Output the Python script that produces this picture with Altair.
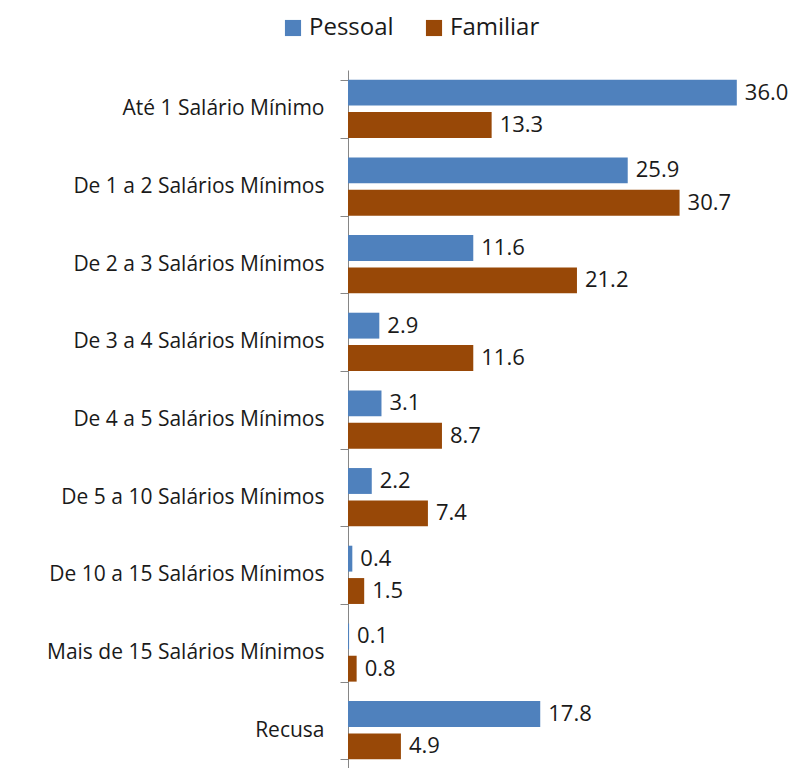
import altair as alt
import pandas as pd

categories = [
    "Até 1 Salário Mínimo",
    "De 1 a 2 Salários Mínimos",
    "De 2 a 3 Salários Mínimos",
    "De 3 a 4 Salários Mínimos",
    "De 4 a 5 Salários Mínimos",
    "De 5 a 10 Salários Mínimos",
    "De 10 a 15 Salários Mínimos",
    "Mais de 15 Salários Mínimos",
    "Recusa",
]
series = ["Pessoal", "Familiar"]
pessoal = [36.0, 25.9, 11.6, 2.9, 3.1, 2.2, 0.4, 0.1, 17.8]
familiar = [13.3, 30.7, 21.2, 11.6, 8.7, 7.4, 1.5, 0.8, 4.9]
colors = ["#4F81BD", "#984807"]

rows = []
for c, p, f in zip(categories, pessoal, familiar):
    rows.append({"cat": c, "serie": "Pessoal", "valor": p, "rotulo": f"{p:.1f}"})
    rows.append({"cat": c, "serie": "Familiar", "valor": f, "rotulo": f"{f:.1f}"})
df = pd.DataFrame(rows)

FONT = "Open Sans"

y = alt.Y("cat:N", sort=categories, title=None,
          scale=alt.Scale(paddingInner=0.25, paddingOuter=0.125),
          axis=alt.Axis(domainColor="#868686", tickColor="#868686", tickSize=8,
                        tickBand="extent", labelPadding=16, labelFont=FONT,
                        labelFontSize=21, labelColor="#1a1a1a", labelLimit=400))
yoff = alt.YOffset("serie:N", sort=series, scale=alt.Scale(paddingInner=0.2))
x = alt.X("valor:Q", axis=None, scale=alt.Scale(domain=[0, 40], nice=False))

bars = alt.Chart(df).mark_bar().encode(
    y=y, yOffset=yoff, x=x,
    color=alt.Color("serie:N", sort=series,
                    scale=alt.Scale(domain=series, range=colors),
                    legend=alt.Legend(title=None, orient="none", direction="horizontal",
                                      legendX=-67, legendY=-54, symbolType="square",
                                      symbolSize=260, symbolStrokeWidth=0,
                                      labelFont=FONT, labelFontSize=24,
                                      labelColor="#1a1a1a", columnPadding=28,
                                      labelLimit=300)),
)

labels = alt.Chart(df).mark_text(align="left", baseline="middle", dx=8,
                                 font=FONT, fontSize=22, color="#1a1a1a").encode(
    y=alt.Y("cat:N", sort=categories), yOffset=yoff, x=x, text="rotulo:N"
)

chart = (bars + labels).properties(
    width=432, height=699,
    padding={"left": 38, "top": 8, "right": 5, "bottom": 5},
).configure_view(stroke=None)

chart.save("out.html", embed_options={"renderer": "svg", "actions": False})
